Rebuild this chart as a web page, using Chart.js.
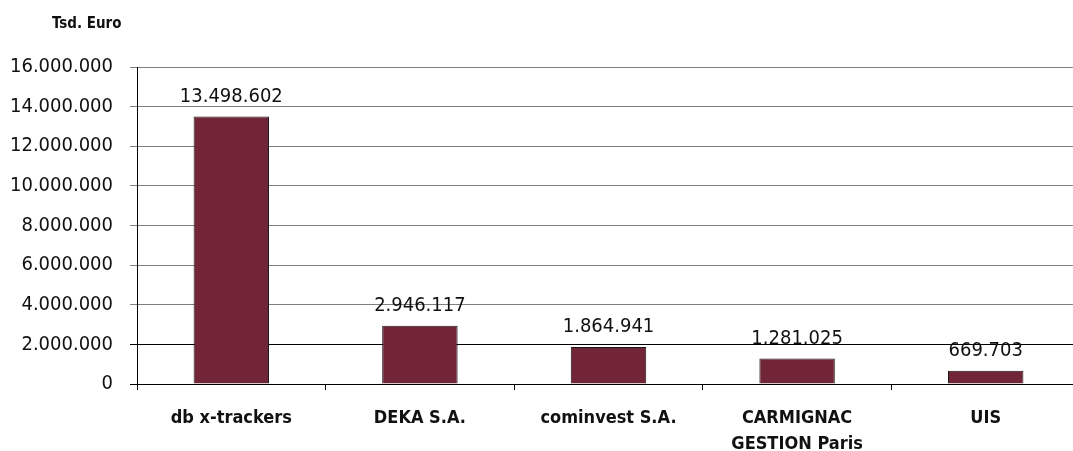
<!DOCTYPE html>
<html>
<head>
<meta charset="utf-8">
<script src="https://cdn.jsdelivr.net/npm/chart.js@4"></script>
<style>
  html, body { margin: 0; padding: 0; background: #fff; overflow: hidden; }
  #wrap { position: relative; width: 1080px; height: 451px; }
  #unit { position: absolute; left: 52px; top: 14px; font: bold 15px "DejaVu Sans Condensed", "Open Sans", sans-serif; color: #111; }
</style>
</head>
<body>
<div id="wrap">
  <div id="unit">Tsd. Euro</div>
  <canvas id="chart"></canvas>
</div>
<script>
// Volumen je Emittent (Tsd. Euro)
const categories = ['db x-trackers', 'DEKA S.A.', 'cominvest S.A.', ['CARMIGNAC', 'GESTION Paris'], 'UIS'];
const values = [13498602, 2946117, 1864941, 1281025, 669703];
const yTicks = [0, 2000000, 4000000, 6000000, 8000000, 10000000, 12000000, 14000000, 16000000];

const FONT = '"DejaVu Sans Condensed", "Open Sans", sans-serif';

function fmtDe(v) {
  return String(Math.round(v)).replace(/\B(?=(\d{3})+(?!\d))/g, '.');
}

// Werte über den Balken
const valueLabels = {
  id: 'valueLabels',
  afterDatasetsDraw(chart) {
    const ctx = chart.ctx;
    const meta = chart.getDatasetMeta(0);
    ctx.save();
    ctx.font = '20px ' + FONT;
    ctx.fillStyle = '#111';
    ctx.textAlign = 'center';
    ctx.textBaseline = 'middle';
    meta.data.forEach((bar, i) => {
      const p = bar.getProps(['x', 'y'], true);
      ctx.fillText(fmtDe(values[i]), p.x, p.y - 20);
    });
    ctx.restore();
  }
};

new Chart(document.getElementById('chart'), {
  type: 'bar',
  data: {
    labels: categories,
    datasets: [{
      data: values,
      backgroundColor: '#722536',
      borderColor: '#1a1a1a',
      borderWidth: 1,
      barPercentage: 0.4,
      categoryPercentage: 1
    }]
  },
  options: {
    responsive: true,
    maintainAspectRatio: false,
    animation: false,
    layout: { padding: { top: 67, right: 0, bottom: 0, left: 0 } },
    plugins: { legend: { display: false }, tooltip: { enabled: false } },
    scales: {
      x: {
        afterFit: (s) => { s.height = 67; },
        grid: { offset: true, drawOnChartArea: false, drawTicks: true, tickLength: 6, color: '#000' },
        border: { color: '#000', width: 1 },
        ticks: {
          color: '#111', padding: 15, maxRotation: 0, autoSkip: false,
          font: { family: FONT, size: 18, weight: 'bold', lineHeight: 1.45 }
        }
      },
      y: {
        min: 0, max: 16000000,
        afterFit: (s) => { s.width = 137; },
        afterBuildTicks: (s) => { s.ticks = yTicks.map(v => ({ value: v })); },
        grid: {
          tickLength: 7,
          color: (c) => (c.tick && (c.tick.value === 2000000 || c.tick.value === 0)) ? '#000' : '#808080'
        },
        border: { color: '#000', width: 1 },
        ticks: {
          color: '#111', padding: 17,
          font: { family: FONT, size: 20 },
          callback: (v) => fmtDe(v)
        }
      }
    }
  },
  plugins: [valueLabels]
});
</script>
</body>
</html>
